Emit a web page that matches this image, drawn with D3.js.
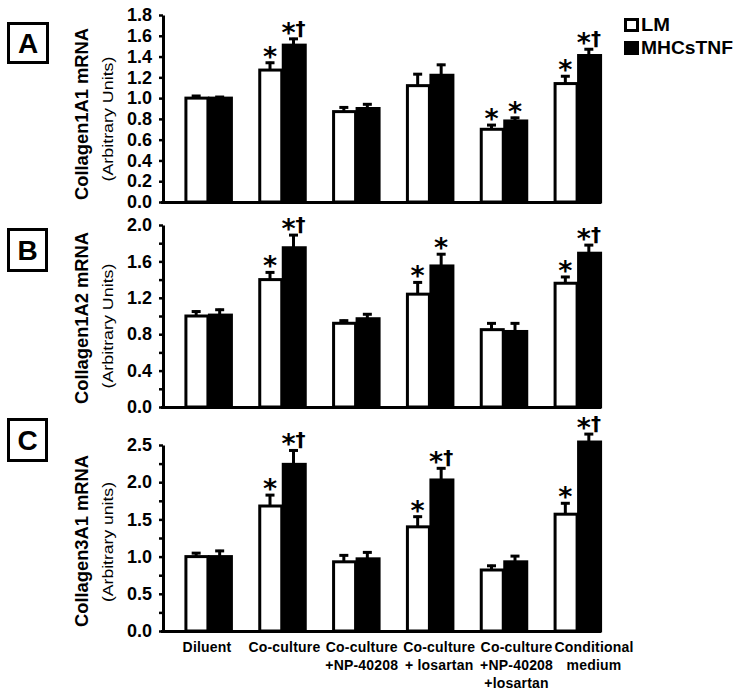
<!DOCTYPE html>
<html>
<head>
<meta charset="utf-8">
<script src="https://cdn.jsdelivr.net/npm/d3@7"></script>
<style>
  html, body { margin: 0; padding: 0; background: #fff; }
  svg { display: block; }
</style>
</head>
<body>
<svg id="chart" width="742" height="694"></svg>
<script>
// ---------------- DATA ----------------
const categories = ["Diluent", "Co-culture", "Co-culture +NP-40208", "Co-culture + losartan",
                    "Co-culture +NP-40208 +losartan", "Conditional medium"];
const categoryLines = [["Diluent"], ["Co-culture"], ["Co-culture", "+NP-40208"],
                       ["Co-culture", "+ losartan"], ["Co-culture", "+NP-40208", "+losartan"],
                       ["Conditional", "medium"]];
const seriesNames = ["LM", "MHCsTNF"];

// Panel A: Collagen1A1
const A_LM      = [1.00, 1.27, 0.87, 1.12, 0.70, 1.14];
const A_LM_err  = [0.03, 0.08, 0.05, 0.12, 0.05, 0.08];
const A_TNF     = [1.00, 1.51, 0.90, 1.22, 0.78, 1.41];
const A_TNF_err = [0.02, 0.07, 0.05, 0.11, 0.04, 0.07];
const A_LM_sig  = ["", "*", "", "", "*", "*"];
const A_TNF_sig = ["", "*†", "", "", "*", "*†"];
const A_ticks   = [0.0, 0.2, 0.4, 0.6, 0.8, 1.0, 1.2, 1.4, 1.6, 1.8];
const A_labels  = ["0.0", "0.2", "0.4", "0.6", "0.8", "1.0", "1.2", "1.4", "1.6", "1.8"];

// Panel B: Collagen1A2
const B_LM      = [1.00, 1.40, 0.92, 1.24, 0.85, 1.36];
const B_LM_err  = [0.06, 0.09, 0.04, 0.14, 0.08, 0.08];
const B_TNF     = [1.01, 1.75, 0.97, 1.55, 0.83, 1.69];
const B_TNF_err = [0.07, 0.15, 0.06, 0.14, 0.10, 0.10];
const B_LM_sig  = ["", "*", "", "*", "", "*"];
const B_TNF_sig = ["", "*†", "", "*", "", "*†"];
const B_ticks   = [0.0, 0.2, 0.4, 0.6, 0.8, 1.0, 1.2, 1.4, 1.6, 1.8, 2.0];
const B_labels  = ["0.0", "", "0.4", "", "0.8", "", "1.2", "", "1.6", "", "2.0"];

// Panel C: Collagen3A1
const C_LM      = [1.00, 1.68, 0.93, 1.40, 0.82, 1.57];
const C_LM_err  = [0.06, 0.16, 0.10, 0.15, 0.07, 0.16];
const C_TNF     = [1.00, 2.24, 0.97, 2.03, 0.93, 2.54];
const C_TNF_err = [0.09, 0.20, 0.10, 0.17, 0.09, 0.12];
const C_LM_sig  = ["", "*", "", "*", "", "*"];
const C_TNF_sig = ["", "*†", "", "*†", "", "*†"];
const C_ticks   = [0.0, 0.25, 0.5, 0.75, 1.0, 1.25, 1.5, 1.75, 2.0, 2.25, 2.5];
const C_labels  = ["0.0", "", "0.5", "", "1.0", "", "1.5", "", "2.0", "", "2.5"];

// ---------------- LAYOUT ----------------
const svg = d3.select("#chart");
const FONT = "'Liberation Sans', Arial, sans-serif";
const AXIS_X = 163, X_END = 601;

const panels = [
  { letter: "A", lm: A_LM, lmErr: A_LM_err, tnf: A_TNF, tnfErr: A_TNF_err, lmSig: A_LM_sig, tnfSig: A_TNF_sig,
    ticks: A_ticks, labels: A_labels, yTop: 15, yBot: 202,
    title: "Collagen1A1 mRNA", sub: "(Arbitrary Units)", titleY: 114, subY: 119, box: [7, 22, 42, 42] },
  { letter: "B", lm: B_LM, lmErr: B_LM_err, tnf: B_TNF, tnfErr: B_TNF_err, lmSig: B_LM_sig, tnfSig: B_TNF_sig,
    ticks: B_ticks, labels: B_labels, yTop: 225, yBot: 407,
    title: "Collagen1A2 mRNA", sub: "(Arbitrary Units)", titleY: 318, subY: 326, box: [7, 228, 41, 44] },
  { letter: "C", lm: C_LM, lmErr: C_LM_err, tnf: C_TNF, tnfErr: C_TNF_err, lmSig: C_LM_sig, tnfSig: C_TNF_sig,
    ticks: C_ticks, labels: C_labels, yTop: 445, yBot: 631,
    title: "Collagen3A1 mRNA", sub: "(Arbitrary units)", titleY: 541, subY: 542, box: [7, 418, 41, 44] }
];

const x0 = d3.scaleBand().domain(categories).range([171, 614]).padding(0);
const bw = x0.bandwidth();
const x1 = d3.scaleBand().domain(seriesNames).range([bw / 2 - 23.5, bw / 2 + 23.5]).padding(0);
const xLabel = d3.scalePoint().domain(categories).range([207, 594]);

panels.forEach(p => {
  const g = svg.append("g");
  const maxV = p.ticks[p.ticks.length - 1];
  const y = d3.scaleLinear().domain([0, maxV]).range([p.yBot, p.yTop]);

  // panel letter box
  const [bx, by, bwid, bh] = p.box;
  g.append("rect").attr("x", bx + 1.5).attr("y", by + 1.5).attr("width", bwid - 3).attr("height", bh - 3)
    .attr("fill", "#fff").attr("stroke", "#000").attr("stroke-width", 3);
  g.append("text").attr("x", bx + bwid / 2).attr("y", by + bh / 2 + 10)
    .attr("text-anchor", "middle").attr("font-family", FONT).attr("font-weight", "bold")
    .attr("font-size", 28).text(p.letter);

  // y axis titles
  g.append("text").attr("transform", `translate(88,${p.titleY}) rotate(-90)`)
    .attr("text-anchor", "middle").attr("font-family", FONT).attr("font-weight", "bold")
    .attr("font-size", 19).attr("textLength", 172).attr("lengthAdjust", "spacingAndGlyphs").text(p.title);
  g.append("text").attr("transform", `translate(113,${p.subY}) rotate(-90)`)
    .attr("text-anchor", "middle").attr("font-family", FONT)
    .attr("font-size", 15).attr("textLength", p.sub === "(Arbitrary units)" ? 120 : 125)
    .attr("lengthAdjust", "spacingAndGlyphs").text(p.sub);

  // y axis
  const axis = d3.axisLeft(y).tickValues(p.ticks).tickSize(4).tickSizeOuter(0).tickPadding(7)
    .tickFormat((d, i) => p.labels[i]);
  const ag = g.append("g").attr("transform", `translate(${AXIS_X},0)`).call(axis);
  ag.select(".domain").attr("stroke", "#000").attr("stroke-width", 3);
  ag.selectAll(".tick line").attr("stroke", "#000").attr("stroke-width", 2.5);
  ag.selectAll(".tick text").attr("font-family", FONT).attr("font-weight", "bold")
    .attr("font-size", 18).attr("fill", "#000");

  // bars
  const rows = categories.map((c, i) => ({ c, i }));
  const series = [
    { name: "LM", vals: p.lm, errs: p.lmErr, sig: p.lmSig, fill: "#fff" },
    { name: "MHCsTNF", vals: p.tnf, errs: p.tnfErr, sig: p.tnfSig, fill: "#000" }
  ];
  series.forEach(s => {
    const bx0 = d => x0(d.c) + x1(s.name);
    // error bars
    g.selectAll(null).data(rows).enter().append("line")
      .attr("x1", d => bx0(d) + x1.bandwidth() / 2).attr("x2", d => bx0(d) + x1.bandwidth() / 2)
      .attr("y1", d => y(s.vals[d.i])).attr("y2", d => y(s.vals[d.i] + s.errs[d.i]))
      .attr("stroke", "#000").attr("stroke-width", 3);
    g.selectAll(null).data(rows).enter().append("line")
      .attr("x1", d => bx0(d) + x1.bandwidth() / 2 - 4.5).attr("x2", d => bx0(d) + x1.bandwidth() / 2 + 4.5)
      .attr("y1", d => y(s.vals[d.i] + s.errs[d.i]) + 1).attr("y2", d => y(s.vals[d.i] + s.errs[d.i]) + 1)
      .attr("stroke", "#000").attr("stroke-width", 3);
    // bar
    g.selectAll(null).data(rows).enter().append("rect")
      .attr("x", d => bx0(d) + 1.5).attr("width", x1.bandwidth() - 1.5)
      .attr("y", d => y(s.vals[d.i])).attr("height", d => y(0) - y(s.vals[d.i]))
      .attr("fill", s.fill).attr("stroke", "#000").attr("stroke-width", 3);
    // significance marks
    const t = g.selectAll(null).data(rows.filter(d => s.sig[d.i])).enter().append("text")
      .attr("x", d => bx0(d) + x1.bandwidth() / 2)
      .attr("y", d => y(s.vals[d.i] + s.errs[d.i]) + 4)
      .attr("text-anchor", "middle").attr("font-family", "'DejaVu Sans', sans-serif").attr("fill", "#000");
    t.each(function(d) {
      const txt = s.sig[d.i];
      const el = d3.select(this);
      el.append("tspan").attr("font-size", 27).attr("font-weight", "bold").text(txt[0]);
      if (txt.length > 1) {
        el.append("tspan").attr("font-size", 20).attr("font-weight", "bold").attr("dy", -7).text(txt.slice(1));
      }
    });
  });

  // baseline
  g.append("line").attr("x1", AXIS_X - 2).attr("x2", X_END).attr("y1", y(0) + 0.5).attr("y2", y(0) + 0.5)
    .attr("stroke", "#000").attr("stroke-width", 3);

  // x labels only on panel C
  if (p.letter === "C") {
    categories.forEach((c, i) => {
      categoryLines[i].forEach((line, j) => {
        g.append("text").attr("x", xLabel(c)).attr("y", y(0) + 21 + j * 18)
          .attr("text-anchor", "middle").attr("font-family", FONT).attr("font-weight", "bold")
          .attr("font-size", 14).attr("letter-spacing", 0.2).text(line);
      });
    });
  }
});

// legend
const legend = svg.append("g");
seriesNames.forEach((n, i) => {
  const ly = 18 + i * 23;
  legend.append("rect").attr("x", 625.5).attr("y", ly + 1.5).attr("width", 12).attr("height", 11)
    .attr("fill", i === 0 ? "#fff" : "#000").attr("stroke", "#000").attr("stroke-width", 3);
  legend.append("text").attr("x", 641).attr("y", ly + 13).attr("font-family", FONT)
    .attr("font-weight", "bold").attr("font-size", 18).attr("textLength", i === 0 ? 29 : 92)
    .attr("lengthAdjust", "spacingAndGlyphs").text(n);
});
</script>
</body>
</html>
